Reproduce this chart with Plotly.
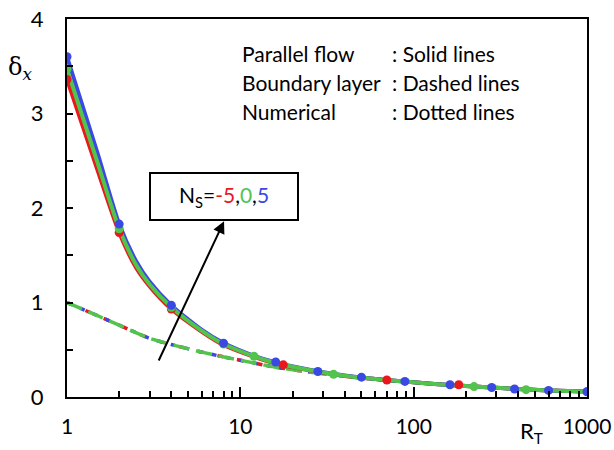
import plotly.graph_objects as go

# ---- data ----
R_line = [1, 1.5, 2, 2.5, 3, 4, 6, 8, 12, 16, 25, 40, 60, 100, 160, 250, 400, 600, 1000]
pf_red = [3.36, 2.40, 1.74, 1.37, 1.17, 0.93, 0.69, 0.55, 0.425, 0.355, 0.283, 0.223, 0.19, 0.155, 0.128, 0.105, 0.085, 0.07, 0.057]
pf_green = [3.47, 2.48, 1.78, 1.40, 1.19, 0.95, 0.70, 0.56, 0.43, 0.36, 0.285, 0.225, 0.19, 0.155, 0.128, 0.105, 0.085, 0.07, 0.057]
pf_blue = [3.60, 2.58, 1.83, 1.44, 1.22, 0.97, 0.71, 0.57, 0.435, 0.365, 0.288, 0.227, 0.19, 0.155, 0.128, 0.105, 0.085, 0.07, 0.057]

R_bl = [1, 1.5, 2, 3, 4, 6, 8, 12, 16, 25, 40, 60, 100, 160, 250, 400, 600, 1000]
bl_red = [1.0, 0.86, 0.76, 0.62, 0.555, 0.475, 0.425, 0.36, 0.315, 0.265, 0.222, 0.19, 0.155, 0.128, 0.105, 0.085, 0.07, 0.057]
bl_green = [1.0, 0.86, 0.76, 0.62, 0.555, 0.475, 0.425, 0.36, 0.315, 0.265, 0.222, 0.19, 0.155, 0.128, 0.105, 0.085, 0.07, 0.057]
bl_blue = [1.0, 0.86, 0.76, 0.62, 0.555, 0.475, 0.425, 0.36, 0.315, 0.265, 0.222, 0.19, 0.155, 0.128, 0.105, 0.085, 0.07, 0.057]

num_R_red = [1, 2, 4, 17.7, 70, 182]
num_red = [3.36, 1.74, 0.93, 0.34, 0.18, 0.13]
num_R_green = [1, 2, 4, 8, 12, 34.5, 223, 445, 1000]
num_green = [3.47, 1.78, 0.95, 0.56, 0.43, 0.24, 0.11, 0.078, 0.057]
num_R_blue = [1, 2, 4, 8, 16, 28, 50, 89, 162, 282, 382, 600, 1000]
num_blue = [3.60, 1.83, 0.97, 0.57, 0.37, 0.27, 0.21, 0.165, 0.13, 0.10, 0.085, 0.07, 0.055]

x_ticks = [1, 10, 100, 1000]
x_ticktext = ["1", "10", "100", "1000"]
y_ticks = [0, 1, 2, 3, 4]

RED = "rgb(232,24,30)"
GREEN = "rgb(82,196,76)"
BLUE = "rgb(58,72,228)"

fig = go.Figure()

# boundary layer (dashed)
fig.add_trace(go.Scatter(x=R_bl, y=bl_red, mode="lines", line=dict(color=RED, width=3.5, dash="6px,14px", shape="spline", smoothing=0.7)))
fig.add_trace(go.Scatter(x=R_bl, y=bl_blue, mode="lines", line=dict(color=BLUE, width=3.5, dash="5px,9px", shape="spline", smoothing=0.7)))
fig.add_trace(go.Scatter(x=R_bl, y=bl_green, mode="lines", line=dict(color=GREEN, width=3.5, dash="16px,7px", shape="spline", smoothing=0.7)))

# parallel flow (solid)
fig.add_trace(go.Scatter(x=R_line, y=pf_red, mode="lines", line=dict(color=RED, width=4, shape="spline", smoothing=0.7)))
fig.add_trace(go.Scatter(x=R_line, y=pf_blue, mode="lines", line=dict(color=BLUE, width=4, shape="spline", smoothing=0.7)))
fig.add_trace(go.Scatter(x=R_line, y=pf_green, mode="lines", line=dict(color=GREEN, width=4, shape="spline", smoothing=0.7)))

# numerical (points)
fig.add_trace(go.Scatter(x=num_R_red, y=num_red, mode="markers", marker=dict(color=RED, size=9)))
fig.add_trace(go.Scatter(x=num_R_green, y=num_green, mode="markers", marker=dict(color=GREEN, size=9)))
fig.add_trace(go.Scatter(x=num_R_blue, y=num_blue, mode="markers", marker=dict(color=BLUE, size=9)))

FONT = "Lato"
fig.update_layout(
    width=614, height=450,
    margin=dict(l=67, r=27, t=19, b=53, autoexpand=False),
    paper_bgcolor="white", plot_bgcolor="white",
    showlegend=False,
    font=dict(family=FONT, size=20, color="black"),
)
fig.update_xaxes(
    type="log", range=[0, 3], automargin=False,
    tickvals=x_ticks, ticktext=x_ticktext,
    ticks="inside", ticklen=10, tickwidth=1.5, tickcolor="black",
    minor=dict(ticks="inside", ticklen=6, tickwidth=1.5, tickcolor="black", dtick="D1", showgrid=False),
    showgrid=False, zeroline=False,
    showline=True, linecolor="black", linewidth=2, mirror=True,
    ticklabelstandoff=10, ticklabeloverflow="allow",
    tickfont=dict(family=FONT, size=21),
)
fig.update_yaxes(
    range=[0, 4], tickvals=y_ticks, automargin=False,
    ticks="inside", ticklen=6, tickwidth=1.5, tickcolor="black",
    minor=dict(ticks="inside", ticklen=6, tickwidth=1.5, tickcolor="black", dtick=0.5, showgrid=False),
    showgrid=False, zeroline=False,
    showline=True, linecolor="black", linewidth=2, mirror=True,
    ticklabelstandoff=17, ticklabeloverflow="allow",
    tickfont=dict(family=FONT, size=22),
)

ann = []
# legend-like text
rows = [("Parallel flow", ": Solid lines", 0.910), ("Boundary layer", ": Dashed lines", 0.831), ("Numerical", ": Dotted lines", 0.754)]
for left, right, yy in rows:
    ann.append(dict(xref="paper", yref="paper", x=0.333, y=yy, text=left, showarrow=False, xanchor="left", yanchor="middle", font=dict(family=FONT, size=21)))
    ann.append(dict(xref="paper", yref="paper", x=0.621, y=yy, text=right, showarrow=False, xanchor="left", yanchor="middle", font=dict(family=FONT, size=21)))

# axis labels
ann.append(dict(xref="paper", yref="paper", x=-0.090, y=0.870, xanchor="center", yanchor="middle", text="δ<sub><i>x</i></sub>", showarrow=False, font=dict(family="DejaVu Serif", size=24)))
ann.append(dict(xref="paper", yref="paper", x=0.894, y=-0.092, xanchor="center", yanchor="middle", text="R<sub>T</sub>", showarrow=False, font=dict(family=FONT, size=22)))

# arrow
ann.append(dict(xref="x", yref="y", x=0.906, y=1.86, axref="x", ayref="y", ax=0.525, ay=0.37, text="", showarrow=True, arrowhead=2, arrowsize=1.2, arrowwidth=2, arrowcolor="black"))
# Ns box
ann.append(dict(xref="x", yref="y", x=0.906, y=2.12, xanchor="center", yanchor="middle", showarrow=False,
                text="N<sub>S</sub>=<span style='color:%s'>-5</span>,<span style='color:%s'>0</span>,<span style='color:%s'>5</span>" % (RED, GREEN, BLUE),
                font=dict(family=FONT, size=21), bgcolor="white", bordercolor="black", borderwidth=2,
                width=144, height=43, align="center", valign="middle"))

fig.update_layout(annotations=ann)
fig.write_html("out.html", config={"displayModeBar": False},
               post_script="document.body.style.margin='0px';document.body.style.overflow='hidden';")
